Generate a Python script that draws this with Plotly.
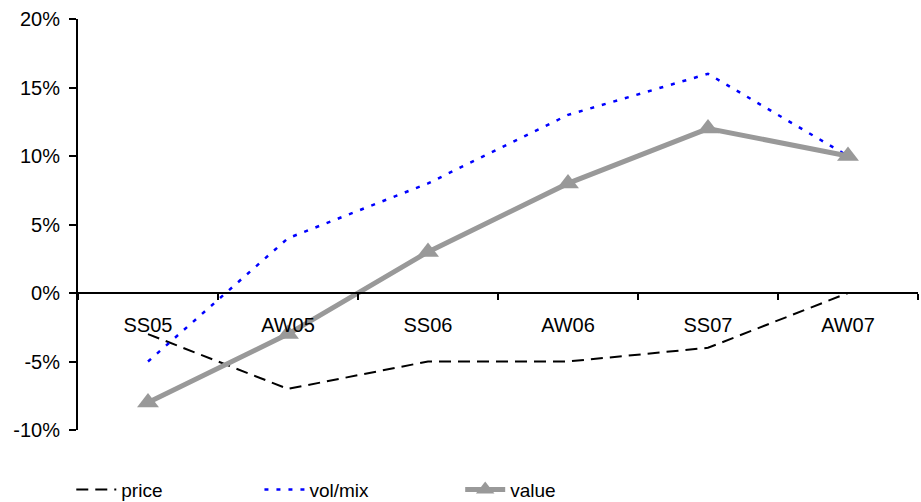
import plotly.graph_objects as go

seasons = ["SS05", "AW05", "SS06", "AW06", "SS07", "AW07"]
price = [-3, -7, -5, -5, -4, 0]
vol_mix = [-5, 4, 8, 13, 16, 10]
value = [-8, -3, 3, 8, 12, 10]
y_ticks = [-10, -5, 0, 5, 10, 15, 20]
y_tick_text = [f"{v}%" for v in y_ticks]

FONT = "Liberation Sans, Arial, sans-serif"
NARROW = "Liberation Sans Narrow, Arial Narrow, sans-serif"

fig = go.Figure()
fig.add_trace(go.Scatter(
    x=seasons, y=price, name="price", mode="lines",
    line=dict(color="black", width=2, dash="12px,7px"),
    legend="legend",
))
fig.add_trace(go.Scatter(
    x=seasons, y=vol_mix, name="vol/mix", mode="lines",
    line=dict(color="#0000FF", width=2.5, dash="4px,8px"),
    legend="legend2",
))
fig.add_trace(go.Scatter(
    x=seasons, y=value, name="value", mode="lines+markers",
    line=dict(color="#999999", width=5),
    marker=dict(symbol="triangle-up", size=19, color="#999999"),
    legend="legend3",
))

legend_common = dict(
    orientation="h", yanchor="middle", y=-0.145, xanchor="left",
    font=dict(family=NARROW, size=19, color="black"),
    bgcolor="rgba(0,0,0,0)", itemwidth=40,
)

fig.update_layout(
    width=921, height=502,
    margin=dict(l=78, r=3, t=19, b=72, autoexpand=False),
    plot_bgcolor="white", paper_bgcolor="white",
    font=dict(family=FONT, size=20, color="black"),
    showlegend=True,
    legend=dict(x=-0.008, **legend_common),
    legend2=dict(x=0.216, **legend_common),
    legend3=dict(x=0.455, **legend_common),
    xaxis=dict(
        type="category", range=[-0.5, 5.5],
        anchor="free", position=1/3,
        showline=True, linecolor="black", linewidth=2,
        ticks="outside", tickson="boundaries", ticklen=6, tickwidth=2,
        tickcolor="black", showgrid=False, zeroline=False,
        ticklabelstandoff=14,
        tickfont=dict(family=FONT, size=20, color="black"),
    ),
    yaxis=dict(
        range=[-10, 20], domain=[0, 1],
        tickvals=y_ticks, ticktext=y_tick_text,
        showline=True, linecolor="black", linewidth=2,
        ticks="outside", ticklen=7, tickwidth=2, tickcolor="black",
        ticklabelstandoff=5,
        showgrid=False, zeroline=False,
        tickfont=dict(family=FONT, size=20, color="black"),
    ),
)

fig.write_html("out.html")
